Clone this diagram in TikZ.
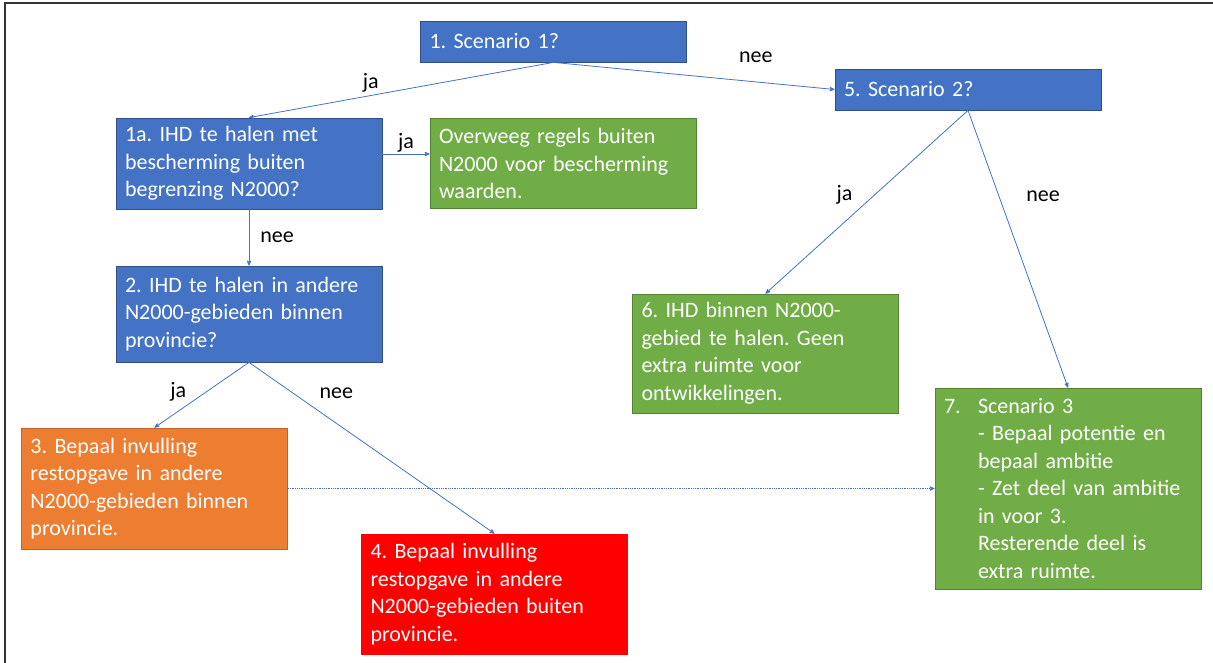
\documentclass[tikz,border=0pt]{standalone}
\usepackage{fontspec}
\setmainfont{Carlito}
\usepackage{tikz}
\usetikzlibrary{arrows}

\definecolor{boxblue}{HTML}{4472C4}
\definecolor{boxgreen}{HTML}{70AD47}
\definecolor{boxorange}{HTML}{ED7D31}
\definecolor{boxred}{HTML}{FF0000}

\frenchspacing

\begin{document}
\begin{tikzpicture}[x=1pt,y=-1pt,->,>=stealth',shorten >=0pt,
                    every node/.style={font=\fontsize{22}{27.5}\selectfont},
                    box/.style={rectangle,draw,line width=0.8pt,text=white,align=left,
                                text width=248pt,inner xsep=9pt,inner ysep=3pt},
                    blue node/.style={box,fill=boxblue,draw=boxblue!70!black},
                    green node/.style={box,fill=boxgreen,draw=boxgreen!75!black},
                    orange node/.style={box,fill=boxorange,draw=boxorange!80!black},
                    red node/.style={box,fill=boxred,draw=boxred}]
\useasboundingbox (0,0) rectangle (1213,663);
\draw[-,line width=2pt,black!80] (5,700) -- (5,3) -- (1240,3);

\node[blue node,minimum height=41pt] (1) at (553.5,41.5) {1. Scenario 1?};
\node[blue node,minimum height=91pt] (1a) at (249,163.5) {1a. IHD te halen met\\bescherming buiten\\begrenzing N2000?};
\node[green node,minimum height=90pt] (ov) [right of=1a,node distance=314pt] {Overweeg regels buiten\\N2000 voor bescherming\\waarden.};
\node[blue node,minimum height=96pt] (2) [below of=1a,node distance=150.5pt] {2. IHD te halen in andere\\N2000-gebieden binnen\\provincie?};
\node[orange node,minimum height=121pt] (3) at (154.5,488.5) {3. Bepaal invulling\\restopgave in andere\\N2000-gebieden binnen\\provincie.};
\node[red node,minimum height=120pt] (4) at (494.5,594) {4. Bepaal invulling\\restopgave in andere\\N2000-gebieden buiten\\provincie.};
\node[blue node,minimum height=41pt] (5) at (968,89.5) {5. Scenario 2?};
\node[green node,minimum height=119pt] (6) at (765.5,353.5) {6. IHD binnen N2000-\\gebied te halen. Geen\\extra ruimte voor\\ontwikkelingen.};
\node[green node,minimum height=201pt] (7) [right of=3,node distance=913.5pt] {\makebox[34pt][l]{7.}Scenario 3\\
  \hspace*{34pt}- Bepaal potentie en\\
  \hspace*{34pt}bepaal ambitie\\
  \hspace*{34pt}- Zet deel van ambitie\\
  \hspace*{34pt}in voor 3.\\
  \hspace*{34pt}Resterende deel is\\
  \hspace*{34pt}extra ruimte.};

\path[boxblue,line width=0.8pt,every node/.style={font=\fontsize{22}{27.5}\selectfont,text=black,inner sep=0pt}]
(1.south) edge node[pos=0.6,above=3pt] {ja} (1a.north)
          edge node[pos=0.72,above=19pt] {nee} (5.west)
([yshift=9.5pt]1a.east) edge node[above=1pt] {ja} ([yshift=9.5pt]ov.west)
(1a.south) edge node[right=11pt] {nee} (2.north)
(2.south) edge node[pos=0.45,left=20pt] {ja} (3.north)
          edge node[pos=0.18,right=26pt] {nee} (4.north)
(5.south) edge node[pos=0.46,left=22pt] {ja} (6.north)
          edge node[pos=0.31,right=27pt] {nee} (7.north)
(3.east) edge[densely dotted] (7.west);
\end{tikzpicture}
\end{document}
